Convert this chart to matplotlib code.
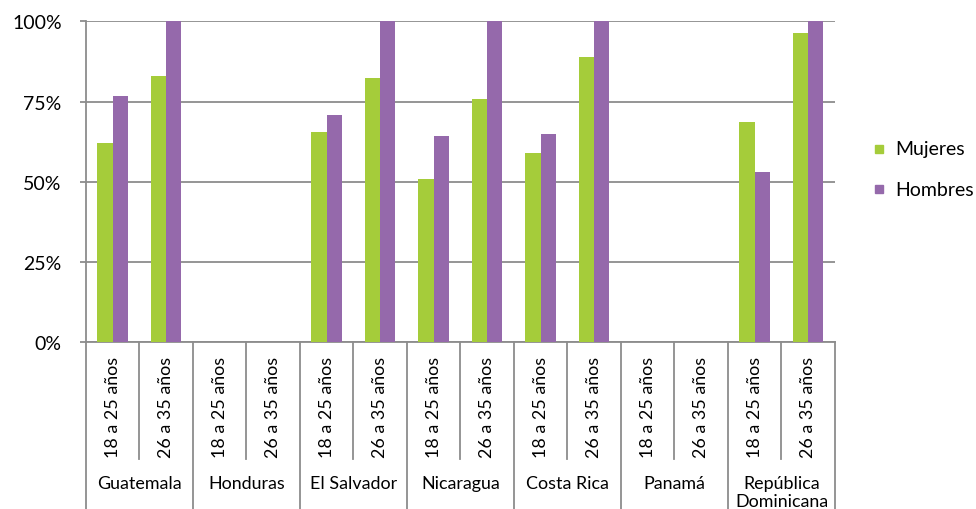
import numpy as np
import matplotlib
matplotlib.use("Agg")
import matplotlib.pyplot as plt
from matplotlib.patches import Rectangle

plt.rcParams['font.family'] = ['Lato', 'DejaVu Sans']

# Data
countries = ["Guatemala", "Honduras", "El Salvador", "Nicaragua", "Costa Rica", "Panamá",
             "República\nDominicana"]
age_groups = ["18 a 25 años", "26 a 35 años"]
series_names = ["Mujeres", "Hombres"]
# one value per (country, age group), in order; NaN where no data
mujeres = [62, 83, np.nan, np.nan, 65.6, 82.4, 50.9, 75.8, 59, 89, np.nan, np.nan, 68.6, 96.4]
hombres = [76.6, 100, np.nan, np.nan, 70.7, 100, 64.2, 100, 64.8, 100, np.nan, np.nan, 53.1, 100]
yticks = [0, 25, 50, 75, 100]
ytick_labels = ["0%", "25%", "50%", "75%", "100%"]

green = "#A5CC3A"
purple = "#9569AB"
gray = "#8C8C8C"
fs = 12.9

fig = plt.figure(figsize=(9.76, 5.1), dpi=100)
ax = fig.add_axes([0.0881, 0.3275, 0.7674, 0.6284])

n = len(mujeres)
x = np.arange(n)
w = 0.285
ax.bar(x - w / 2, mujeres, width=w, color=green, zorder=3)
ax.bar(x + w / 2, hombres, width=w, color=purple, zorder=3)

ax.set_xlim(-0.5, n - 0.5)
ax.set_ylim(0, 100)
ax.set_yticks(yticks)
ax.set_yticklabels(ytick_labels, fontsize=14)
ax.tick_params(axis='y', length=4.5, width=1.3, color=gray, pad=13)
ax.set_xticks([])
ax.yaxis.grid(True, color=gray, linewidth=1.3, zorder=0)
ax.set_axisbelow(True)
for s in ["top", "right"]:
    ax.spines[s].set_visible(False)
for s in ["left", "bottom"]:
    ax.spines[s].set_color(gray)
    ax.spines[s].set_linewidth(1.3)

# Two-level category axis
tr = ax.get_xaxis_transform()
for k in range(len(countries)):
    ax.plot([2 * k + 0.5] * 2, [0, -0.365], transform=tr, color=gray, lw=1.3, clip_on=False)
for k in range(len(countries) + 1):
    ax.plot([2 * k - 0.5] * 2, [0, -0.56], transform=tr, color=gray, lw=1.3, clip_on=False)
for i in range(n):
    ax.text(i, -0.2, age_groups[i % 2], rotation=90, ha='center', va='center',
            fontsize=fs, transform=tr)
for k, c in enumerate(countries):
    ax.text(2 * k + 0.5, -0.415, c, ha='center', va='top', fontsize=fs,
            transform=tr, linespacing=1.15)

# Legend
for name, col, yc in zip(series_names, [green, purple], [150, 190]):
    fig.patches.append(Rectangle((875 / 976, 1 - (yc + 4) / 510), 8 / 976, 8 / 510,
                                 transform=fig.transFigure, color=col))
    fig.text(895 / 976, 1 - yc / 510, name, va='center', ha='left', fontsize=14)

fig.savefig("out.png", dpi=100)
